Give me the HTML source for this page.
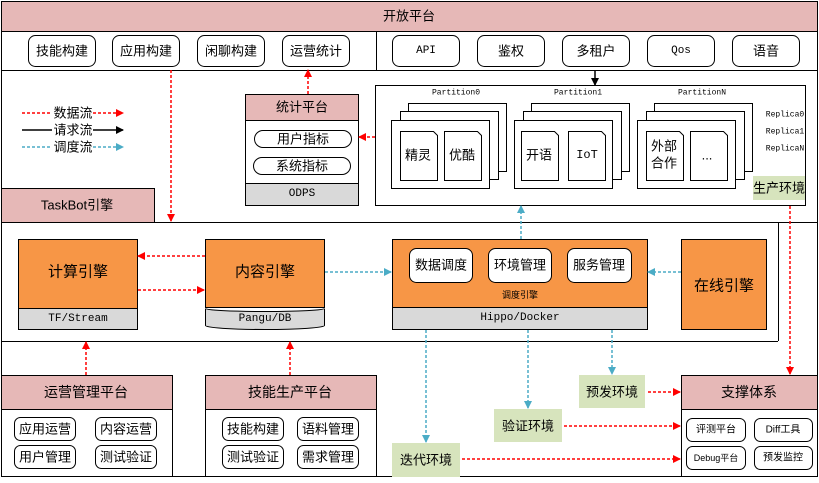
<!DOCTYPE html>
<html><head><meta charset="utf-8"><style>
body{margin:0;background:#fff}
text{font-family:"Liberation Sans","Noto Sans CJK SC",sans-serif;fill:#000;text-anchor:middle;dominant-baseline:central}
.m{font-family:"Liberation Mono","Noto Sans CJK SC",monospace}
</style></head><body>
<svg width="819" height="478" viewBox="0 0 819 478" xmlns="http://www.w3.org/2000/svg" font-size="13">
<defs>
<marker id="r" markerWidth="8" markerHeight="8" refX="7" refY="4" orient="auto" markerUnits="userSpaceOnUse"><path d="M0,0L8,4L0,8z" fill="#f00"/></marker>
<marker id="b" markerWidth="8" markerHeight="8" refX="7" refY="4" orient="auto" markerUnits="userSpaceOnUse"><path d="M0,0L8,4L0,8z" fill="#4bacc6"/></marker>
<marker id="k" markerWidth="8" markerHeight="8" refX="7" refY="4" orient="auto" markerUnits="userSpaceOnUse"><path d="M0,0L8,4L0,8z" fill="#000"/></marker>
</defs>
<g stroke="#000" stroke-width="1" fill="none">
<rect x="1.5" y="1.5" width="816" height="475"/>
<rect x="1.5" y="1.5" width="816" height="30" fill="#e6b8b7"/>
<line x1="1" y1="70.5" x2="818" y2="70.5"/>
<line x1="376.5" y1="31" x2="376.5" y2="70"/>
<line x1="1" y1="222.5" x2="818" y2="222.5"/>
<rect x="1.5" y="188.5" width="153" height="34" fill="#e6b8b7"/>
<line x1="1" y1="341.5" x2="778" y2="341.5"/>
<line x1="778.5" y1="222" x2="778.5" y2="341"/>
</g>
<text x="409" y="16">开放平台</text>
<g stroke="#000" fill="#fff">
<rect x="28.5" y="35.5" width="67" height="31" rx="7"/><rect x="112.5" y="35.5" width="67" height="31" rx="7"/>
<rect x="197.5" y="35.5" width="67" height="31" rx="7"/><rect x="282.5" y="35.5" width="67" height="31" rx="7"/>
<rect x="392.5" y="35.5" width="67" height="31" rx="7"/><rect x="477.5" y="35.5" width="67" height="31" rx="7"/>
<rect x="562.5" y="35.5" width="67" height="31" rx="7"/><rect x="647.5" y="35.5" width="67" height="31" rx="7"/>
<rect x="732.5" y="35.5" width="67" height="31" rx="7"/>
</g>
<text x="62" y="51">技能构建</text><text x="146" y="51">应用构建</text><text x="231" y="51">闲聊构建</text><text x="316" y="51">运营统计</text>
<text x="426" y="51" class="m" style="font-size:11px">API</text><text x="511" y="51">鉴权</text><text x="596" y="51">多租户</text><text x="681" y="51" class="m" style="font-size:11px">Qos</text><text x="766" y="51">语音</text>
<text x="77" y="205">TaskBot引擎</text>
<g stroke-width="1.5">
<line x1="22" y1="113" x2="52" y2="113" stroke="#f00" stroke-dasharray="3,2"/><line x1="93" y1="113" x2="123" y2="113" stroke="#f00" stroke-dasharray="3,2" marker-end="url(#r)"/>
<line x1="22" y1="130" x2="52" y2="130" stroke="#000"/><line x1="93" y1="130" x2="123" y2="130" stroke="#000" marker-end="url(#k)"/>
<line x1="22" y1="147" x2="52" y2="147" stroke="#4bacc6" stroke-dasharray="3,2"/><line x1="93" y1="147" x2="123" y2="147" stroke="#4bacc6" stroke-dasharray="3,2" marker-end="url(#b)"/>
</g>
<text x="73" y="113">数据流</text><text x="73" y="130">请求流</text><text x="73" y="147">调度流</text>
<g stroke="#000">
<rect x="245.5" y="94.5" width="113" height="111" fill="#fff"/>
<rect x="245.5" y="94.5" width="113" height="26" fill="#e6b8b7"/>
<rect x="245.5" y="183.5" width="113" height="22" fill="#d9d9d9"/>
<rect x="254.5" y="130.5" width="97" height="17" rx="8.5" fill="#fff"/>
<rect x="253.5" y="157.5" width="97" height="17" rx="8.5" fill="#fff"/>
</g>
<text x="302" y="107">统计平台</text><text x="303" y="139">用户指标</text><text x="302" y="166">系统指标</text><text x="302" y="194" class="m" style="font-size:11px">ODPS</text>
<rect x="375.5" y="85.5" width="430" height="120" fill="#fff" stroke="#000"/>
<g stroke="#000" fill="#fff">
<rect x="408.5" y="103.5" width="98" height="68"/><rect x="400.5" y="111.5" width="98" height="68"/><rect x="391.5" y="120.5" width="98" height="68"/>
<rect x="531.5" y="103.5" width="98" height="68"/><rect x="523.5" y="111.5" width="98" height="68"/><rect x="514.5" y="120.5" width="98" height="68"/>
<rect x="654.5" y="103.5" width="98" height="68"/><rect x="646.5" y="111.5" width="98" height="68"/><rect x="637.5" y="120.5" width="98" height="68"/>
<path d="M400.5,131.5h33l4,4v45h-37z"/><path d="M444.5,131.5h33l4,4v45h-37z"/>
<path d="M521.5,131.5h33l4,4v45h-37z"/><path d="M568.5,131.5h33l4,4v45h-37z"/>
<path d="M646.5,131.5h33l4,4v45h-37z"/><path d="M690.5,131.5h33l4,4v45h-37z"/>
</g>
<text x="456" y="93" class="m" style="font-size:8px">Partition0</text><text x="578" y="93" class="m" style="font-size:8px">Partition1</text><text x="702" y="93" class="m" style="font-size:8px">PartitionN</text>
<text x="785" y="115" class="m" style="font-size:8px">Replica0</text><text x="785" y="132" class="m" style="font-size:8px">Replica1</text><text x="785" y="149" class="m" style="font-size:8px">ReplicaN</text>
<text x="418" y="155">精灵</text><text x="462" y="155">优酷</text><text x="539" y="155">开语</text><text x="587" y="155" class="m" style="font-size:12px">IoT</text>
<text x="664" y="146">外部</text><text x="664" y="163">合作</text><text x="707" y="155">...</text>
<rect x="753" y="176" width="52" height="24" fill="#d7e4bd"/><text x="779" y="188">生产环境</text>
<g stroke="#000">
<rect x="18.5" y="239.5" width="119" height="90" fill="#f79646"/><rect x="18.5" y="308.5" width="119" height="21" fill="#d9d9d9"/>
<rect x="205.5" y="239.5" width="119" height="68" fill="#f79646"/>
<path d="M205.5,308.5v17a59.5,4 0 0 0 119,0v-17a59.5,3 0 0 1 -119,0z" fill="#d9d9d9"/>
<rect x="392.5" y="239.5" width="255" height="90" fill="#f79646"/><rect x="392.5" y="307.5" width="255" height="22" fill="#d9d9d9"/>
<rect x="409.5" y="248.5" width="63" height="34" rx="7" fill="#fff"/><rect x="488.5" y="248.5" width="63" height="34" rx="7" fill="#fff"/><rect x="567.5" y="248.5" width="64" height="34" rx="7" fill="#fff"/>
<rect x="681.5" y="239.5" width="85" height="90" fill="#f79646"/>
</g>
<text x="78" y="272" style="font-size:15px">计算引擎</text><text x="78" y="319" class="m" style="font-size:11px">TF/Stream</text>
<text x="265" y="272" style="font-size:15px">内容引擎</text><text x="265" y="319" class="m" style="font-size:11px">Pangu/DB</text>
<text x="441" y="265">数据调度</text><text x="520" y="265">环境管理</text><text x="599" y="265">服务管理</text>
<text x="520" y="295" style="font-size:9px">调度引擎</text><text x="520" y="318" class="m" style="font-size:11px">Hippo/Docker</text>
<text x="724" y="286" style="font-size:15px">在线引擎</text>
<g stroke="#000">
<rect x="1.5" y="375.5" width="171" height="101" fill="#fff"/><rect x="1.5" y="375.5" width="171" height="34" fill="#e6b8b7"/>
<rect x="205.5" y="375.5" width="171" height="101" fill="#fff"/><rect x="205.5" y="375.5" width="171" height="34" fill="#e6b8b7"/>
<rect x="681.5" y="375.5" width="136" height="101" fill="#fff"/><rect x="681.5" y="375.5" width="136" height="34" fill="#e6b8b7"/>
<g fill="#fff">
<rect x="14.5" y="417.5" width="61" height="23" rx="6"/><rect x="95.5" y="417.5" width="61" height="23" rx="6"/>
<rect x="14.5" y="445.5" width="61" height="23" rx="6"/><rect x="95.5" y="445.5" width="61" height="23" rx="6"/>
<rect x="222.5" y="417.5" width="61" height="23" rx="6"/><rect x="297.5" y="417.5" width="61" height="23" rx="6"/>
<rect x="222.5" y="445.5" width="61" height="23" rx="6"/><rect x="297.5" y="445.5" width="61" height="23" rx="6"/>
<rect x="686.5" y="418.5" width="59" height="23" rx="6"/><rect x="754.5" y="418.5" width="58" height="23" rx="6"/>
<rect x="686.5" y="446.5" width="59" height="23" rx="6"/><rect x="754.5" y="446.5" width="58" height="23" rx="6"/>
</g></g>
<text x="86" y="392" style="font-size:14px">运营管理平台</text><text x="290" y="392" style="font-size:14px">技能生产平台</text><text x="749" y="392" style="font-size:14px">支撑体系</text>
<text x="45" y="429">应用运营</text><text x="126" y="429">内容运营</text><text x="45" y="457">用户管理</text><text x="126" y="457">测试验证</text>
<text x="253" y="429">技能构建</text><text x="328" y="429">语料管理</text><text x="253" y="457">测试验证</text><text x="328" y="457">需求管理</text>
<text x="716" y="430" style="font-size:10px">评测平台</text><text x="783" y="430" style="font-size:10px">Diff工具</text><text x="716" y="458" style="font-size:9px">Debug平台</text><text x="783" y="458" style="font-size:10px">预发监控</text>
<rect x="579" y="375" width="66" height="33" fill="#d7e4bd"/><text x="612" y="392">预发环境</text>
<rect x="494" y="409" width="68" height="33" fill="#d7e4bd"/><text x="528" y="426">验证环境</text>
<rect x="392" y="443" width="68" height="34" fill="#d7e4bd"/><text x="426" y="460">迭代环境</text>
<g stroke-width="1.5" fill="none">
<line x1="595" y1="70" x2="595" y2="85" stroke="#000" marker-end="url(#k)"/>
<g stroke="#f00" stroke-dasharray="3,2">
<line x1="171" y1="70" x2="171" y2="221" marker-end="url(#r)"/>
<line x1="308" y1="94" x2="308" y2="70" marker-end="url(#r)"/>
<line x1="375" y1="137" x2="359" y2="137" marker-end="url(#r)"/>
<line x1="205" y1="256" x2="138" y2="256" marker-end="url(#r)"/>
<line x1="138" y1="290" x2="204" y2="290" marker-end="url(#r)"/>
<line x1="86" y1="375" x2="86" y2="342" marker-end="url(#r)"/>
<line x1="290" y1="375" x2="290" y2="342" marker-end="url(#r)"/>
<line x1="790" y1="206" x2="790" y2="374" marker-end="url(#r)"/>
<line x1="648" y1="392" x2="680" y2="392" marker-end="url(#r)"/>
<line x1="564" y1="426" x2="680" y2="426" marker-end="url(#r)"/>
<line x1="462" y1="459" x2="680" y2="459" marker-end="url(#r)"/>
</g>
<g stroke="#4bacc6" stroke-dasharray="3,2">
<line x1="325" y1="272" x2="391" y2="272" marker-end="url(#b)"/>
<line x1="681" y1="272" x2="648" y2="272" marker-end="url(#b)"/>
<line x1="521" y1="239" x2="521" y2="206" marker-end="url(#b)"/>
<line x1="426" y1="330" x2="426" y2="442" marker-end="url(#b)"/>
<line x1="528" y1="330" x2="528" y2="408" marker-end="url(#b)"/>
<line x1="612" y1="330" x2="612" y2="374" marker-end="url(#b)"/>
</g></g>
</svg>
</body></html>
